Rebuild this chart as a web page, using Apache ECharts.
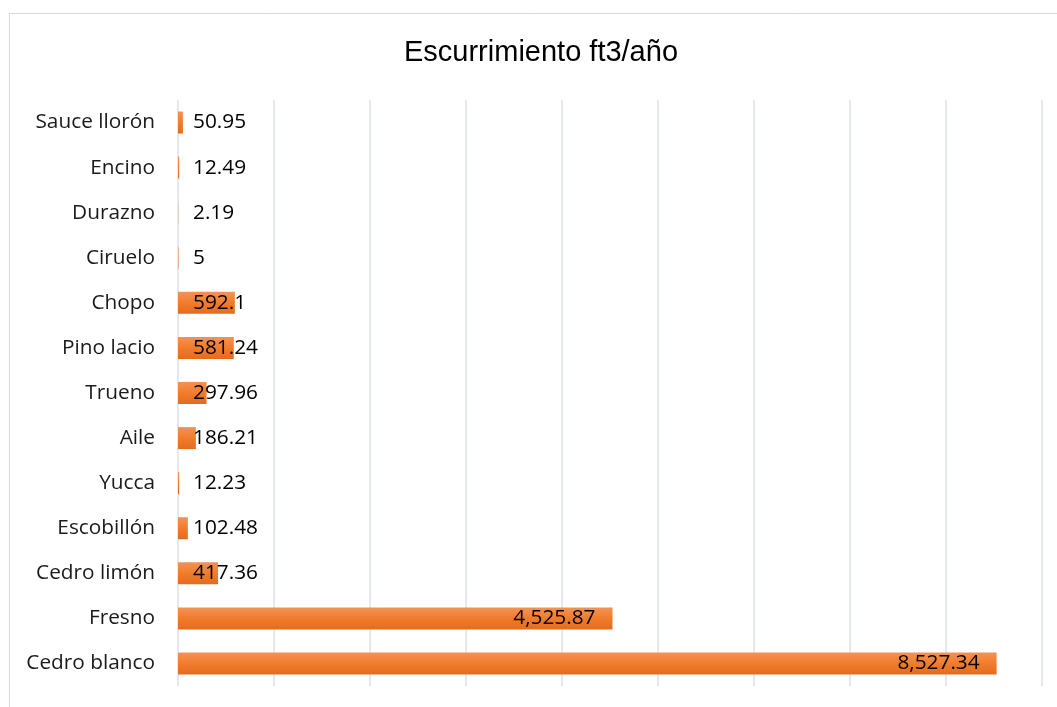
<!DOCTYPE html>
<html>
<head>
<meta charset="utf-8">
<script src="https://cdn.jsdelivr.net/npm/echarts@6/dist/echarts.min.js"></script>
<style>
  html, body { margin: 0; padding: 0; background: #fff; }
  #chart { width: 1057px; height: 707px; }
</style>
</head>
<body>
<div id="chart"></div>
<script>
// especies, de abajo hacia arriba
const especies = [
  "Cedro blanco", "Fresno", "Cedro limón", "Escobillón", "Yucca", "Aile",
  "Trueno", "Pino lacio", "Chopo", "Ciruelo", "Durazno", "Encino", "Sauce llorón"
];
const escurrimiento = [
  8527.34, 4525.87, 417.36, 102.48, 12.23, 186.21,
  297.96, 581.24, 592.1, 5, 2.19, 12.49, 50.95
];
const titulo = "Escurrimiento ft3/año";

const fmt = (v) => v.toLocaleString("en-US", { maximumFractionDigits: 2 });

const chart = echarts.init(document.getElementById("chart"));

const barColor = new echarts.graphic.LinearGradient(0, 0, 0, 1, [
  { offset: 0, color: "#f29357" },
  { offset: 0.5, color: "#f07c2e" },
  { offset: 1, color: "#e56b1c" },
]);

const option = {
  animation: false,
  graphic: [
    {
      type: "rect",
      shape: { x: 9.5, y: 13.5, width: 1200, height: 900 },
      style: { fill: "none", stroke: "#d9d9d9", lineWidth: 1 },
      silent: true,
    },
    {
      type: "text",
      x: 541,
      y: 53,
      style: {
        text: titulo,
        fontFamily: "Liberation Sans",
        fontSize: 29,
        fill: "#000",
        align: "center",
        verticalAlign: "middle",
      },
      silent: true,
    },
  ],
  grid: { left: 178, right: 15, top: 100, bottom: 21 },
  xAxis: {
    type: "value",
    min: 0,
    max: 9000,
    interval: 1000,
    axisLabel: { show: false },
    axisLine: { show: false },
    axisTick: { show: false },
    splitLine: { lineStyle: { color: "#dde1e8", width: 1.5 } },
  },
  yAxis: {
    type: "category",
    data: especies,
    axisLine: { show: false },
    axisTick: { show: false },
    axisLabel: {
      fontFamily: "Open Sans",
      fontSize: 20.8,
      color: "#1a1a1a",
      margin: 23,
    },
  },
  series: [
    {
      type: "bar",
      barWidth: 22,
      data: escurrimiento.map((v) => ({
        value: v,
        label: v > 1000
          ? { position: "insideRight", distance: 17 }
          : { position: "insideLeft", distance: 15 },
      })),
      itemStyle: { color: barColor },
      label: {
        show: true,
        fontFamily: "Open Sans",
        fontSize: 20.8,
        color: "#000",
        formatter: (p) => fmt(p.value),
      },
    },
  ],
};

chart.setOption(option);
</script>
</body>
</html>
